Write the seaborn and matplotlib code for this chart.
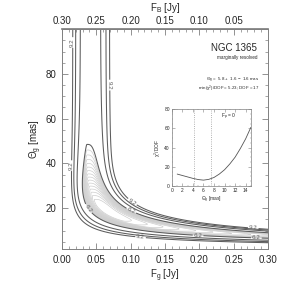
import matplotlib
matplotlib.use("Agg")
import matplotlib.pyplot as plt
import numpy as np
import seaborn as sns
from matplotlib import ticker

# ---- data ----
# reduced chi^2 valley model (F_g vs Theta_g degeneracy)
chi_min = 5.23
kappa = 0.0025
d_center = 0.036
a_lo, p_lo = 3.4, 1.39
a_hi, p_hi = 12.8, 3.72
theta_min, r_top, r_width, r_low = 20.0, 1.35, 0.787, 0.6

grey_levels = [5.30, 5.36, 5.42, 5.48, 5.54, 5.60, 5.66, 5.72, 5.78, 5.84, 5.90, 5.96, 6.02, 6.08, 6.14]
dark_levels = [6.2, 7.2, 8.2, 9.2]

# inset: chi^2/DOF vs Theta_g for F_p = 0
inset_theta = [1, 2, 3, 4, 5, 6, 7, 8, 9, 10, 11, 12, 13, 14, 15]
inset_chi = [12.5, 11.0, 9.5, 8.0, 6.8, 6.2, 7.0, 9.0, 12.5, 17.0, 23.0, 30.0, 39.0, 49.0, 61.0]
theta_best, theta_err = 5.8, 1.6

x_ticks = [0.00, 0.05, 0.10, 0.15, 0.20, 0.25, 0.30]
top_ticks = [0.30, 0.25, 0.20, 0.15, 0.10, 0.05]
y_ticks = [20, 40, 60, 80]
f_total = 0.30

# label anchor points for the 9.2 / 6.2 contours
lab_92 = [(0.016, 94), (0.067, 75), (0.016, 39), (0.102, 22.7), (0.114, 5.8), (0.278, 9.3)]
lab_62 = [(0.041, 20.4), (0.099, 17.8), (0.198, 7.1), (0.283, 6.7)]

sns.set_theme(style="ticks")
plt.rcParams["font.family"] = ["Liberation Sans", "DejaVu Sans"]
plt.rcParams["mathtext.fontset"] = "custom"
plt.rcParams["mathtext.rm"] = "Liberation Sans"
plt.rcParams["mathtext.it"] = "Liberation Sans"

axis_col = "#808080"
fig = plt.figure(figsize=(2.99, 2.94), dpi=100)
ax = fig.add_axes([0.2074, 0.153, 0.689, 0.748])

# evaluate model on grid
f_grid = np.linspace(0.0005, 0.30, 600)
t_grid = np.linspace(0.5, 100, 600)
FF, TT = np.meshgrid(f_grid, t_grid)
dd = FF * (1 - np.exp(-kappa * TT**2))
u = np.log(np.clip(dd, 1e-6, None) / d_center)
q = np.where(u < 0, a_lo * np.abs(u) ** p_lo, a_hi * np.abs(u) ** p_hi)
lt = np.log(TT / theta_min)
r = np.where(lt > 0, r_top * (1 - np.exp(-((lt / r_width) ** 2))), r_low * lt**2)
chi = chi_min + q + r

ax.contour(FF, TT, chi, levels=grey_levels, colors="#cdcdcd", linewidths=0.5)
for lev in dark_levels:
    cs = ax.contour(FF, TT, chi, levels=[lev], colors="#5c5c5c", linewidths=0.75)
    if lev == 9.2:
        ax.clabel(cs, manual=lab_92, fmt="%.1f", fontsize=4.5, inline=True, inline_spacing=1)
    elif lev == 6.2:
        ax.clabel(cs, manual=lab_62, fmt="%.1f", fontsize=4.5, inline=True, inline_spacing=1)

ax.set_xlim(0, 0.30)
ax.set_ylim(1.8, 100)
ax.set_xticks(x_ticks)
ax.set_yticks(y_ticks)
ax.xaxis.set_major_formatter(ticker.FormatStrFormatter("%.2f"))
ax.xaxis.set_minor_locator(ticker.MultipleLocator(0.01))
ax.yaxis.set_minor_locator(ticker.MultipleLocator(5))
ax.tick_params(axis="both", which="major", direction="in", length=4, width=0.6, color=axis_col,
               labelsize=7, top=False, right=True, pad=4)
ax.tick_params(axis="both", which="minor", direction="in", length=2, width=0.5, color=axis_col, top=False, right=True)
for sp in ax.spines.values():
    sp.set_color(axis_col)
    sp.set_linewidth(0.7)
ax.set_xlabel(r"F$_{\rm g}$ [Jy]", fontsize=7, labelpad=2)
ax.set_ylabel(r"$\Theta_{\rm g}$ [mas]", fontsize=7, labelpad=1)

sec = ax.secondary_xaxis("top", functions=(lambda x: f_total - x, lambda x: f_total - x))
sec.set_xticks(top_ticks)
sec.xaxis.set_major_formatter(ticker.FormatStrFormatter("%.2f"))
sec.xaxis.set_minor_locator(ticker.MultipleLocator(0.01))
sec.tick_params(axis="x", which="major", direction="in", length=4, width=0.6, color=axis_col, labelsize=7, pad=2)
sec.tick_params(axis="x", which="minor", direction="in", length=2, width=0.5, color=axis_col)
sec.spines["top"].set_color(axis_col)
fig.text(0.552, 0.972, r"F$_{\rm B}$ [Jy]", fontsize=7, ha="center", va="center")

# annotations
ax.text(0.948, 0.914, "NGC 1365", transform=ax.transAxes, ha="right", va="center", fontsize=7)
ax.text(0.95, 0.873, "marginally resolved", transform=ax.transAxes, ha="right", va="center", fontsize=3.3)
ax.text(0.96, 0.772, r"$\Theta_{\rm g}$ =  %.1f +  %.1f $-$  %.1f mas" % (theta_best, theta_err, theta_err),
        transform=ax.transAxes, ha="right", va="center", fontsize=3.2)
ax.text(0.96, 0.727, r"min($\chi^2$)/DOF = 5.23; DOF = 17", transform=ax.transAxes, ha="right", va="center", fontsize=3.2)

# inset
axin = fig.add_axes([0.575, 0.367, 0.264, 0.262])
axin.axvline(theta_best - theta_err, color="#999999", ls=":", lw=0.6)
axin.axvline(theta_best + theta_err, color="#999999", ls=":", lw=0.6)
sns.lineplot(x=inset_theta, y=inset_chi, ax=axin, color="#555555", lw=0.6)
axin.set_xlim(0, 15)
axin.set_ylim(0, 80)
axin.set_xticks([0, 2, 4, 6, 8, 10, 12, 14])
axin.set_yticks([0, 20, 40, 60, 80])
axin.xaxis.set_minor_locator(ticker.MultipleLocator(1))
axin.yaxis.set_minor_locator(ticker.MultipleLocator(5))
axin.tick_params(axis="both", which="major", direction="in", length=2, width=0.4, color=axis_col,
                 labelsize=3.5, pad=1.5, top=True, right=True)
axin.tick_params(axis="both", which="minor", direction="in", length=1, width=0.3, color=axis_col, top=True, right=True)
for sp in axin.spines.values():
    sp.set_color(axis_col)
    sp.set_linewidth(0.5)
axin.set_xlabel(r"$\Theta_{\rm g}$ [mas]", fontsize=3.5, labelpad=1)
axin.set_ylabel(r"$\chi^2$/DOF", fontsize=3.5, labelpad=1)
axin.text(0.72, 0.9, r"F$_{\rm p}$ = 0", transform=axin.transAxes, ha="center", va="center", fontsize=3.5)

fig.savefig("out.png", dpi=100)
